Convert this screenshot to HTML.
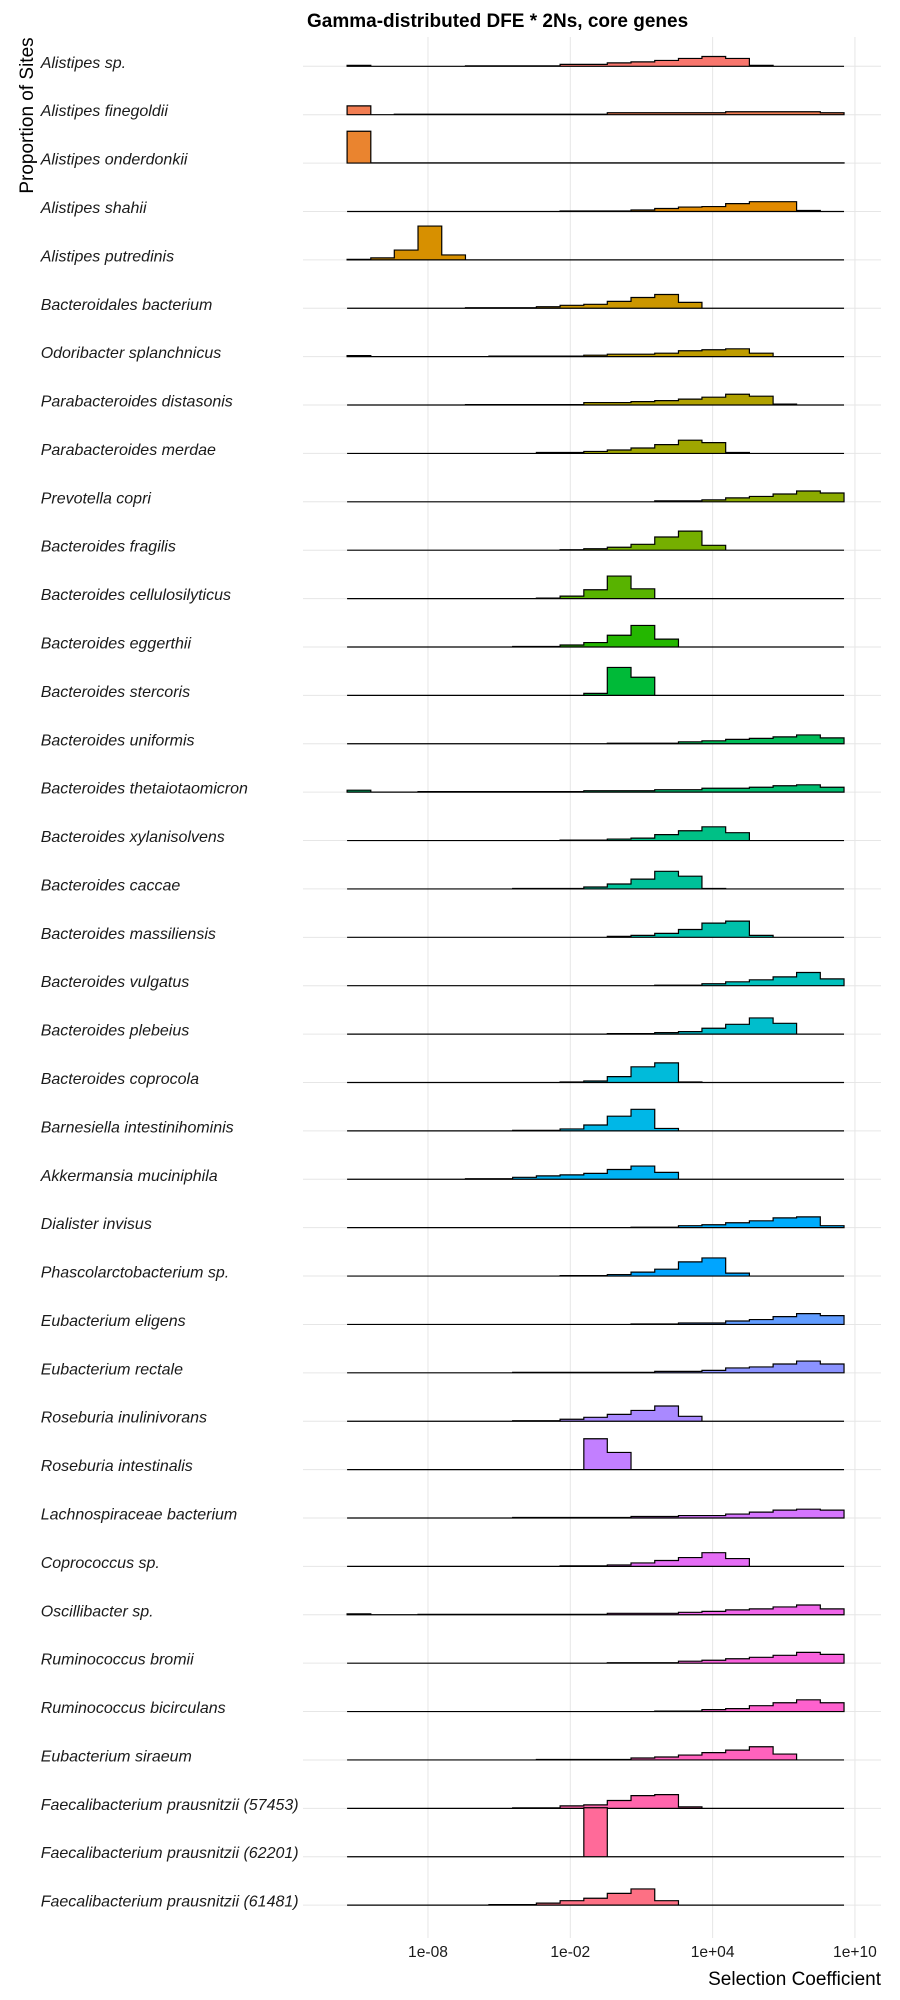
<!DOCTYPE html>
<html><head><meta charset="utf-8">
<style>
html,body{margin:0;padding:0;background:#fff;}
svg{display:block;}
text{font-family:"Liberation Sans",Arial,sans-serif;}
</style></head>
<body>
<svg id="chart" width="900" height="2000" viewBox="0 0 900 2000" xmlns="http://www.w3.org/2000/svg">
<rect x="0" y="0" width="900" height="2000" fill="#fff"/>
<g id="grid"></g>
<g id="marks"></g>
<g id="labels"></g>
<g id="xaxis"></g>
<text x="307" y="27" font-size="19" font-weight="bold" fill="#000">Gamma-distributed DFE * 2Ns, core genes</text>
<text x="881" y="1985" font-size="19" text-anchor="end" fill="#000">Selection Coefficient</text>
<text transform="translate(33,115.5) rotate(-90)" font-size="19" text-anchor="middle" fill="#000">Proportion of Sites</text>
</svg>
<script>
const species = ["Alistipes sp.","Alistipes finegoldii","Alistipes onderdonkii","Alistipes shahii","Alistipes putredinis","Bacteroidales bacterium","Odoribacter splanchnicus","Parabacteroides distasonis","Parabacteroides merdae","Prevotella copri","Bacteroides fragilis","Bacteroides cellulosilyticus","Bacteroides eggerthii","Bacteroides stercoris","Bacteroides uniformis","Bacteroides thetaiotaomicron","Bacteroides xylanisolvens","Bacteroides caccae","Bacteroides massiliensis","Bacteroides vulgatus","Bacteroides plebeius","Bacteroides coprocola","Barnesiella intestinihominis","Akkermansia muciniphila","Dialister invisus","Phascolarctobacterium sp.","Eubacterium eligens","Eubacterium rectale","Roseburia inulinivorans","Roseburia intestinalis","Lachnospiraceae bacterium","Coprococcus sp.","Oscillibacter sp.","Ruminococcus bromii","Ruminococcus bicirculans","Eubacterium siraeum","Faecalibacterium prausnitzii (57453)","Faecalibacterium prausnitzii (62201)","Faecalibacterium prausnitzii (61481)"];
const binEdges = [-11.41,-10.41,-9.42,-8.42,-7.42,-6.42,-5.43,-4.43,-3.43,-2.43,-1.43,-0.44,0.56,1.56,2.56,3.55,4.55,5.55,6.55,7.54,8.54,9.54];
const tickValues = [-8,-2,4,10];
const tickLabels = ["1e-08","1e-02","1e+04","1e+10"];
// proportions per bin (21 bins), one array per species
const p00 = [0.02,0,0,0,0,0.01,0.01,0.01,0.01,0.04,0.04,0.07,0.09,0.12,0.16,0.2,0.16,0.02,0,0,0];
const p01 = [0.18,0,0.01,0.01,0.01,0.01,0.01,0.01,0.01,0.01,0.01,0.04,0.04,0.04,0.04,0.04,0.06,0.06,0.06,0.06,0.04];
const p02 = [0.65,0.005,0.005,0.005,0.005,0.005,0.005,0.005,0.005,0.005,0.005,0.005,0.005,0.005,0.005,0.005,0.005,0.005,0.005,0.005,0.005];
const p03 = [0,0,0,0,0,0,0,0,0,0.01,0.01,0.01,0.03,0.06,0.09,0.1,0.16,0.2,0.2,0.02,0];
const p04 = [0.01,0.04,0.2,0.69,0.1,0,0,0,0,0,0,0,0,0,0,0,0,0,0,0,0];
const p05 = [0,0,0,0,0,0.01,0.01,0.01,0.03,0.06,0.08,0.14,0.22,0.28,0.12,0,0,0,0,0,0];
const p06 = [0.02,0,0,0,0,0,0.01,0.01,0.01,0.01,0.03,0.05,0.05,0.07,0.12,0.14,0.16,0.07,0,0,0];
const p07 = [0,0,0,0,0,0.01,0.01,0.01,0.01,0.01,0.05,0.05,0.07,0.09,0.12,0.16,0.22,0.18,0.02,0,0];
const p08 = [0,0,0,0,0,0,0,0,0.02,0.02,0.04,0.07,0.11,0.18,0.27,0.22,0.02,0,0,0,0];
const p09 = [0,0,0,0,0,0,0,0,0,0,0,0,0,0.02,0.02,0.04,0.08,0.11,0.16,0.22,0.18];
const p10 = [0,0,0,0,0,0,0,0,0,0.01,0.03,0.06,0.12,0.27,0.39,0.1,0,0,0,0,0];
const p11 = [0,0,0,0,0,0,0,0,0.01,0.05,0.18,0.46,0.2,0,0,0,0,0,0,0,0];
const p12 = [0,0,0,0,0,0,0,0.01,0.01,0.04,0.09,0.24,0.44,0.16,0,0,0,0,0,0,0];
const p13 = [0,0,0,0,0,0,0,0,0,0,0.04,0.57,0.37,0,0,0,0,0,0,0,0];
const p14 = [0,0,0,0,0,0,0,0,0,0,0,0.01,0.01,0.01,0.04,0.06,0.09,0.11,0.14,0.18,0.12];
const p15 = [0.04,0,0,0.01,0.01,0.01,0.01,0.01,0.01,0.01,0.03,0.03,0.03,0.05,0.05,0.08,0.08,0.1,0.13,0.15,0.1];
const p16 = [0,0,0,0,0,0,0,0,0,0.01,0.01,0.03,0.05,0.12,0.2,0.28,0.16,0,0,0,0];
const p17 = [0,0,0,0,0,0,0,0.01,0.01,0.01,0.04,0.1,0.2,0.36,0.26,0.01,0,0,0,0,0];
const p18 = [0,0,0,0,0,0,0,0,0,0,0,0.02,0.04,0.08,0.16,0.29,0.33,0.04,0,0,0];
const p19 = [0,0,0,0,0,0,0,0,0,0,0,0,0,0.01,0.01,0.04,0.08,0.12,0.18,0.27,0.14];
const p20 = [0,0,0,0,0,0,0,0,0,0,0,0.01,0.01,0.03,0.05,0.12,0.2,0.33,0.22,0,0];
const p21 = [0,0,0,0,0,0,0,0,0,0.01,0.03,0.12,0.32,0.4,0.01,0,0,0,0,0,0];
const p22 = [0,0,0,0,0,0,0,0.01,0.01,0.04,0.12,0.3,0.44,0.05,0,0,0,0,0,0,0];
const p23 = [0,0,0,0,0,0.01,0.01,0.04,0.07,0.09,0.12,0.2,0.27,0.14,0,0,0,0,0,0,0];
const p24 = [0,0,0,0,0,0,0,0,0,0,0,0,0.01,0.01,0.04,0.06,0.1,0.14,0.2,0.22,0.04];
const p25 = [0,0,0,0,0,0,0,0,0,0.01,0.01,0.03,0.08,0.14,0.29,0.37,0.06,0,0,0,0];
const p26 = [0,0,0,0,0,0,0,0,0,0,0,0,0.01,0.01,0.03,0.03,0.07,0.1,0.16,0.22,0.18];
const p27 = [0,0,0,0,0,0,0,0.01,0.01,0.01,0.01,0.01,0.01,0.03,0.03,0.05,0.1,0.12,0.18,0.24,0.18];
const p28 = [0,0,0,0,0,0,0,0.01,0.01,0.04,0.08,0.14,0.22,0.31,0.1,0,0,0,0,0,0];
const p29 = [0,0,0,0,0,0,0,0,0,0,0.63,0.35,0,0,0,0,0,0,0,0,0];
const p30 = [0,0,0,0,0,0,0,0.01,0.01,0.01,0.01,0.01,0.03,0.03,0.05,0.05,0.08,0.12,0.16,0.18,0.16];
const p31 = [0,0,0,0,0,0,0,0,0,0.01,0.01,0.03,0.07,0.12,0.18,0.28,0.16,0,0,0,0];
const p32 = [0.02,0,0,0.01,0.01,0.01,0.01,0.01,0.01,0.01,0.01,0.03,0.03,0.03,0.05,0.07,0.1,0.12,0.16,0.2,0.12];
const p33 = [0,0,0,0,0,0,0,0,0,0,0,0.01,0.01,0.01,0.04,0.06,0.09,0.12,0.16,0.22,0.18];
const p34 = [0,0,0,0,0,0,0,0,0,0,0,0,0,0.01,0.01,0.04,0.06,0.12,0.18,0.24,0.18];
const p35 = [0,0,0,0,0,0,0,0,0.01,0.01,0.01,0.01,0.04,0.06,0.1,0.15,0.2,0.27,0.12,0,0];
const p36 = [0,0,0,0,0,0,0,0.01,0.01,0.05,0.07,0.16,0.26,0.28,0.03,0,0,0,0,0,0];
const p37 = [0,0,0,0,0,0,0,0,0,0,1.0,0,0,0,0,0,0,0,0,0,0];
const p38 = [0,0,0,0,0,0,0.01,0.01,0.04,0.09,0.14,0.24,0.33,0.09,0,0,0,0,0,0,0];
const proportions = [p00,p01,p02,p03,p04,p05,p06,p07,p08,p09,p10,p11,p12,p13,p14,p15,p16,p17,p18,p19,p20,p21,p22,p23,p24,p25,p26,p27,p28,p29,p30,p31,p32,p33,p34,p35,p36,p37,p38];

const NS = "http://www.w3.org/2000/svg";
function xScale(logv){ return 570.3 + (logv + 2) * 23.72; }
function rowBase(i){ return 66.3 + i * 48.39; }
function hScale(p){ return p * 49; }
function hcl(h, c, l){
  const hr = h * Math.PI / 180;
  const U = c * Math.cos(hr), V = c * Math.sin(hr);
  const Y = l > 8 ? Math.pow((l + 16) / 116, 3) : l / 903.3;
  const un = 0.1978398, vn = 0.4683363;
  const u = U / (13 * l) + un, v = V / (13 * l) + vn;
  const X = 9 * Y * u / (4 * v), Z = Y * (12 - 3 * u - 20 * v) / (4 * v);
  const lin = [3.2404542*X - 1.5371385*Y - 0.4985314*Z, -0.9692660*X + 1.8760108*Y + 0.0415560*Z, 0.0556434*X - 0.2040259*Y + 1.0572252*Z];
  const g = lin.map(t => { t = t <= 0.0031308 ? 12.92 * t : 1.055 * Math.pow(t, 1/2.4) - 0.055; return Math.round(Math.max(0, Math.min(1, t)) * 255); });
  return "rgb(" + g.join(",") + ")";
}
function mk(tag, attrs, parent){ const e = document.createElementNS(NS, tag); for (const k in attrs) e.setAttribute(k, attrs[k]); parent.appendChild(e); return e; }

const grid = document.getElementById("grid");
const marks = document.getElementById("marks");
const labels = document.getElementById("labels");
const xaxis = document.getElementById("xaxis");

tickValues.forEach((t, k) => {
  const gl = mk("line", {x1: xScale(t), x2: xScale(t), y1: 37, y2: 1938, stroke: "#e6e6e6", "stroke-width": 1}, grid);
  
  
  const tl = mk("text", {x: xScale(t), y: 1957, "font-size": 15.6, "text-anchor": "middle", fill: "#1a1a1a"}, xaxis);
  tl.textContent = tickLabels[k];
  
  
});

species.forEach((name, i) => {
  const y0 = rowBase(i);
  const hl = mk("line", {x1: 303, x2: 881, y1: y0, y2: y0, stroke: "#e6e6e6", "stroke-width": 1}, grid);
  
  
  const lb = mk("text", {x: 40.7, y: y0 + 1.5, "font-size": 16, "font-style": "italic", fill: "#1a1a1a"}, labels);
  lb.textContent = name;
  
  
  const vals = proportions[i];
  let d = "M" + xScale(binEdges[0]).toFixed(2) + "," + y0.toFixed(2);
  vals.forEach((v, b) => {
    const yt = (y0 - hScale(v)).toFixed(2);
    d += " L" + xScale(binEdges[b]).toFixed(2) + "," + yt + " L" + xScale(binEdges[b+1]).toFixed(2) + "," + yt;
  });
  d += " L" + xScale(binEdges[binEdges.length-1]).toFixed(2) + "," + y0.toFixed(2) + " Z";
  const hue = 15 + 360 * i / species.length;
  const path = mk("path", {d: d, fill: hcl(hue, 100, 65), stroke: "#000", "stroke-width": 1.2, "stroke-linejoin": "miter"}, marks);
  
  
});
</script>
</body></html>
